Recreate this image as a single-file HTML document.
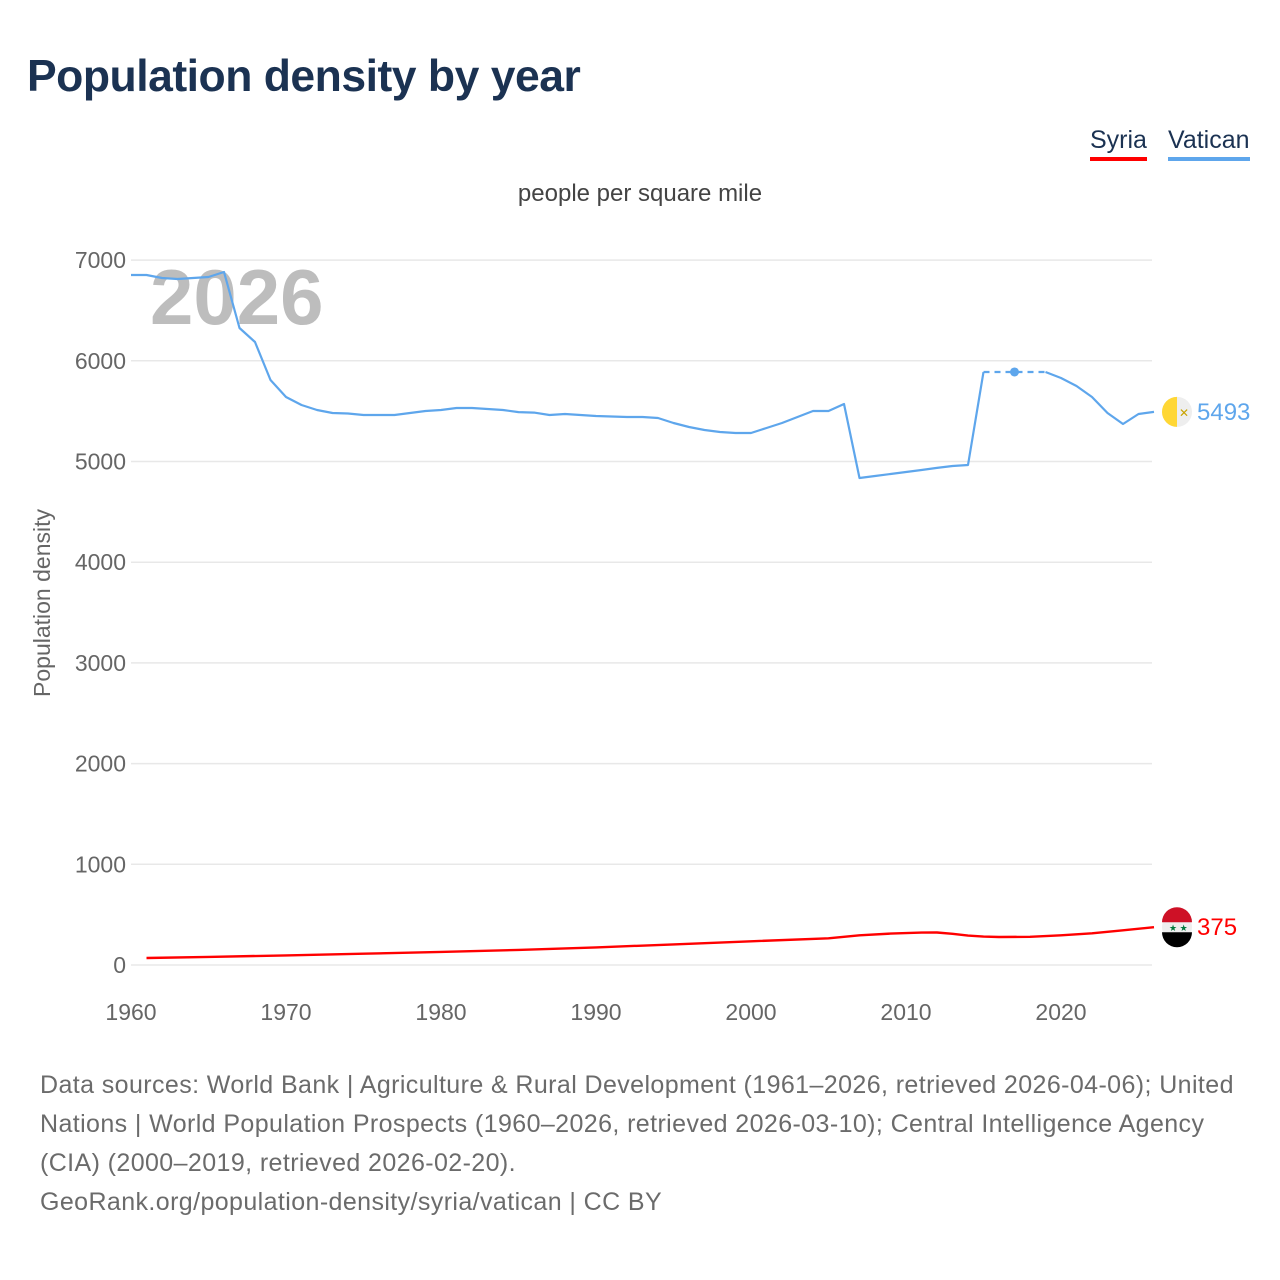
<!DOCTYPE html>
<html><head><meta charset="utf-8">
<style>
body{margin:0;background:#fff;width:1280px;height:1280px;overflow:hidden;font-family:"Liberation Sans",sans-serif}
.title{position:absolute;left:27px;top:52px;font-size:44.5px;font-weight:bold;color:#1b3252;letter-spacing:-0.5px}
.leg{position:absolute;top:126px;font-size:25px;color:#1b3252;padding-bottom:2px}
.foot{position:absolute;left:40px;top:1066px;font-size:25px;color:#6b6b6b;line-height:39px;white-space:nowrap;letter-spacing:0.4px}
</style></head><body>
<div class="title">Population density by year</div>
<div class="leg" style="left:1090px;border-bottom:4px solid #ff0000">Syria</div>
<div class="leg" style="left:1168px;border-bottom:4px solid #5ea6ec">Vatican</div>
<svg id="chart" width="1280" height="1280" style="position:absolute;left:0;top:0"></svg>
<div class="foot">Data sources: World Bank | Agriculture &amp; Rural Development (1961–2026, retrieved 2026-04-06); United<br>Nations | World Population Prospects (1960–2026, retrieved 2026-03-10); Central Intelligence Agency<br>(CIA) (2000–2019, retrieved 2026-02-20).<br>GeoRank.org/population-density/syria/vatican | CC BY</div>
<script>
const yTicks=[0,1000,2000,3000,4000,5000,6000,7000];
const xTicks=[1960,1970,1980,1990,2000,2010,2020];
const vaticanYears=[1960,1961,1962,1963,1964,1965,1966,1967,1968,1969,1970,1971,1972,1973,1974,1975,1976,1977,1978,1979,1980,1981,1982,1983,1984,1985,1986,1987,1988,1989,1990,1991,1992,1993,1994,1995,1996,1997,1998,1999,2000,2001,2002,2003,2004,2005,2006,2007,2008,2009,2010,2011,2012,2013,2014,2015,2016,2017,2018,2019,2020,2021,2022,2023,2024,2025,2026];
const vaticanValues=[6852,6852,6822,6812,6822,6832,6882,6326,6187,5809,5641,5561,5511,5482,5477,5462,5462,5462,5482,5501,5511,5531,5531,5521,5511,5491,5486,5462,5472,5462,5452,5447,5442,5442,5432,5382,5343,5313,5293,5283,5283,5333,5382,5442,5501,5501,5571,4836,4856,4876,4896,4916,4936,4955,4965,5889,5889,5889,5889,5889,5829,5750,5641,5482,5372,5472,5493];
const syriaYears=[1961,1965,1970,1975,1980,1985,1990,1995,2000,2005,2007,2009,2011,2012,2013,2014,2015,2016,2018,2020,2022,2024,2026];
const syriaValues=[70,80,95,112,130,150,175,205,235,265,295,312,322,323,310,292,282,278,280,295,315,345,375];
const dashedStart=2015, dashedEnd=2019, dotYear=2017;

const svg=document.getElementById('chart');
const NS='http://www.w3.org/2000/svg';
const X=y=>131+(y-1960)*15.5;
const Y=v=>965-v*0.1007;
function mk(t,a){const e=document.createElementNS(NS,t);for(const k in a)e.setAttribute(k,a[k]);svg.appendChild(e);return e;}

yTicks.forEach(v=>{
  const g=mk('line',{x1:131,x2:1152,y1:Y(v),y2:Y(v),stroke:'#e8e8e8','stroke-width':1.5});
  
  
  const t=mk('text',{x:126,y:Y(v)+8,'text-anchor':'end','font-size':23,fill:'#666'});
  t.textContent=v;
  
  
});
xTicks.forEach(v=>{
  const t=mk('text',{x:X(v),y:1020,'text-anchor':'middle','font-size':23,fill:'#666'});
  t.textContent=v;
  
  
});
let t=mk('text',{x:640,y:201,'text-anchor':'middle','font-size':24,fill:'#444'});
t.textContent='people per square mile';


t=mk('text',{x:0,y:0,transform:'translate(50,603) rotate(-90)','text-anchor':'middle','font-size':23,fill:'#666'});
t.textContent='Population density';


t=mk('text',{x:150,y:324,'font-size':78,'font-weight':'bold',fill:'#bdbdbd'});
t.textContent='2026';



function path(xs,vs,cond){let d='';let pen=false;for(let i=0;i<xs.length;i++){if(cond(i)){d+=(pen?'L':'M')+X(xs[i]).toFixed(1)+','+Y(vs[i]).toFixed(1);pen=true;}else pen=false;}return d;}
const vSolidA=path(vaticanYears,vaticanValues,i=>vaticanYears[i]<=dashedStart);
const vSolidB=path(vaticanYears,vaticanValues,i=>vaticanYears[i]>=dashedEnd);
const vDash=path(vaticanYears,vaticanValues,i=>vaticanYears[i]>=dashedStart&&vaticanYears[i]<=dashedEnd);
let p=mk('path',{d:vSolidA+vSolidB,fill:'none',stroke:'#5ea6ec','stroke-width':2.2,'stroke-linejoin':'round'});


p=mk('path',{d:vDash,fill:'none',stroke:'#5ea6ec','stroke-width':2.2,'stroke-dasharray':'6,5'});


const di=vaticanYears.indexOf(dotYear);
p=mk('circle',{cx:X(dotYear),cy:Y(vaticanValues[di]),r:4.5,fill:'#5ea6ec'});


p=mk('path',{d:path(syriaYears,syriaValues,()=>true),fill:'none',stroke:'#ff0000','stroke-width':2.4,'stroke-linejoin':'round'});



const vEnd=vaticanValues[vaticanValues.length-1], sEnd=syriaValues[syriaValues.length-1];
const vx=1177, vy=Y(vEnd), sy=Y(sEnd);
let f=mk('circle',{cx:vx,cy:vy,r:15,fill:'#eeeeee'});


mk('path',{d:`M${vx},${vy-15} A15,15 0 0,0 ${vx},${vy+15} Z`,fill:'#ffd735'});
mk('text',{x:vx+2,y:vy+5,'font-size':12,fill:'#c9a400'}).textContent='✕';
t=mk('text',{x:1197,y:vy+8,'font-size':24,fill:'#5ea6ec'});
t.textContent=vEnd;


f=mk('circle',{cx:vx,cy:sy,r:15,fill:'#eeeeee'});


mk('path',{d:`M${vx-15},${sy-5} A15,15 0 0,1 ${vx+15},${sy-5} Z`,fill:'#ce1126'});
mk('path',{d:`M${vx-15},${sy+5} A15,15 0 0,0 ${vx+15},${sy+5} Z`,fill:'#000'});
mk('text',{x:vx-8,y:sy+4,'font-size':9,fill:'#007a3d'}).textContent='★ ★';
t=mk('text',{x:1197,y:sy+8,'font-size':24,fill:'#ff0000'});
t.textContent=sEnd;


</script>
</body></html>
